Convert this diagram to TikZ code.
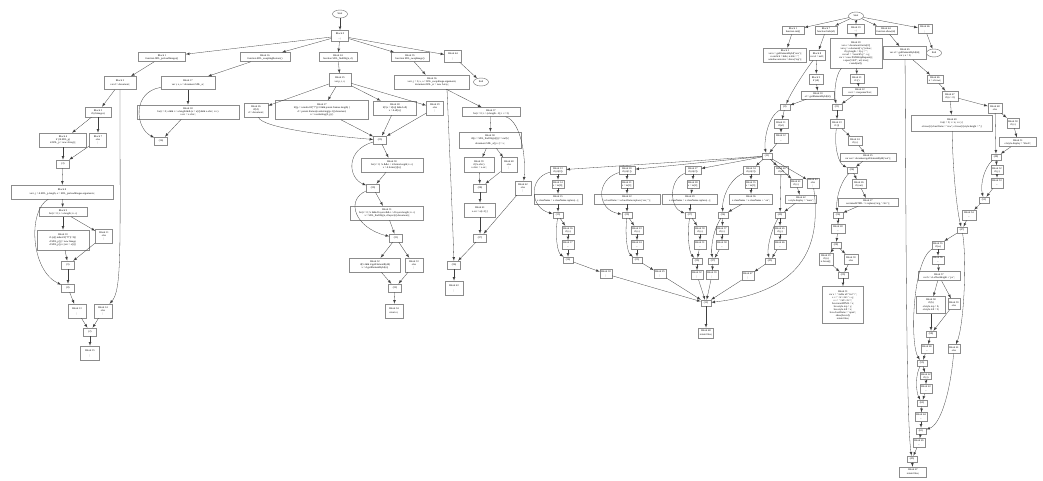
\documentclass[tikz,border=0pt]{standalone}
\usepackage{fontspec}
\setmainfont{Liberation Serif}
\usetikzlibrary{shapes.geometric}
\usepgflibrary{arrows}

\tikzset{
  blk/.style={draw=black!45, line width=0.5pt, inner sep=0.6pt, align=center,
    font=\fontsize{2.6}{3}\selectfont},
  sz/.style 2 args={minimum width=#1pt, minimum height=#2pt},
  jn/.style={blk, minimum width=13pt, minimum height=8pt},
  term/.style={draw=black!60, line width=0.4pt, ellipse, inner sep=0.4pt,
    minimum width=15pt, minimum height=8pt, font=\fontsize{2.6}{3}\selectfont},
  flow/.style={draw=black!75, line width=0.3pt, -latex},
}

\begin{document}
\begin{tikzpicture}[x=1pt,y=-1pt]
  \useasboundingbox (0,0) rectangle (1043,481);

  % first script
  \node[term] (start1) at (340,14) {Start};
  \node[blk, sz={17}{11}] (b0) at (340,36) {Block 0\\[2pt]...;};
  \node[blk, sz={47}{9}] (b1) at (162,57) {Block 1\\function SDL\_preloadImages()};
  \node[blk, sz={50}{9}] (b16) at (265,57) {Block 16\\function SDL\_swapImgRestore()};
  \node[blk, sz={38}{9}] (b24) at (338,57) {Block 24\\function SDL\_findObj(n, d)};
  \node[blk, sz={38}{9}] (b35) at (410,57) {Block 35\\function SDL\_swapImage()};
  \node[blk, sz={17}{12}] (b44) at (453,56) {Block 44\\[2pt];};
  \node[term] (end1) at (481,82) {End};

  \node[blk, sz={32}{13}] (b2) at (120,83) {Block 2\\[1.5pt]var d = document;};
  \node[blk, sz={26}{10}] (b3) at (98,112) {Block 3\\if (d.images)};
  \node[blk, sz={47}{14}] (b4) at (63,140) {Block 4\\if (!d.SDL\_p)\\d.SDL\_p = new Array();};
  \node[blk, sz={17}{14}] (b7) at (98,140) {Block 7\\else\\;};
  \node[jn] (j3) at (63,164) {(3)};
  \node[blk, sz={102}{14}] (b8) at (62,192) {Block 8\\[1.5pt]var i, j = d.SDL\_p.length, a = SDL\_preloadImages.arguments;};
  \node[blk, sz={48}{9}] (b9) at (63,212) {Block 9\\for(i = 0; i < a.length; i++)};
  \node[blk, sz={52}{20}] (b10) at (63,240) {Block 10\\if (a[i].indexOf("\#")!=0)\{\\[1.5pt]d.SDL\_p[j] = new Image;\\d.SDL\_p[j++].src = a[i];\}};
  \node[blk, sz={17}{14}] (b11) at (104,236) {Block 11\\else\\;};
  \node[jn] (j9) at (68,265) {(9)};
  \node[jn] (j8) at (68,288) {(8)};
  \node[blk, sz={18}{14}] (b13) at (77,311) {Block 13\\[2pt];};
  \node[blk, sz={18}{14}] (b14) at (103,311) {Block 14\\else\\;};
  \node[jn] (j2) at (90,332) {(2)};
  \node[blk, sz={19}{14}] (b15) at (90,353) {Block 15\\[2pt];};

  \node[blk, sz={54}{13}] (b17) at (188,83) {Block 17\\[1.5pt]var i, x, a = document.SDL\_sr;};
  \node[blk, sz={102}{14}] (b18) at (188,112) {Block 18\\for(i = 0; a \&\& i < a.length \&\& (x = a[i]) \&\& x.oSrc; i++)\\x.src = x.oSrc;};
  \node[jn] (j16) at (161,141) {(16)};

  \node[blk, sz={22}{13}] (b25) at (340,80) {Block 25\\[1.5pt]var p, i, x;};
  \node[blk, sz={24}{14}] (b26) at (256,110) {Block 26\\if(!d)\\d = document;};
  \node[blk, sz={93}{19}] (b27) at (322,110) {Block 27\\if((p = n.indexOf("?"))>0 \&\& parent.frames.length) \{\\[1pt]d = parent.frames[n.substring(p+1)].document;\\n = n.substring(0, p);\}};
  \node[blk, sz={43}{14}] (b28) at (395,108) {Block 28\\if(!(x = d[n]) \&\& d.all)\\x = d.all[n];};
  \node[blk, sz={17}{14}] (b29) at (435,108) {Block 29\\else\\;};
  \node[jn] (j25) at (380,140) {(25)};
  \node[blk, sz={62}{14}] (b30) at (392,165) {Block 30\\for(i = 0; !x \&\& i < d.forms.length; i++)\\x = d.forms[i][n];};
  \node[jn] (j30) at (373,188) {(30)};
  \node[blk, sz={73}{14}] (b31) at (387,213) {Block 31\\for(i = 0; !x \&\& d.layers \&\& i < d.layers.length; i++)\\x = SDL\_findObj(n, d.layers[i].document);};
  \node[jn] (j31) at (396,238) {(31)};
  \node[blk, sz={51}{14}] (b32) at (375,265) {Block 32\\if(!x \&\& d.getElementById)\\x = d.getElementById(n);};
  \node[blk, sz={18}{14}] (b33) at (414,265) {Block 33\\else\\;};
  \node[jn] (j32) at (395,288) {(32)};
  \node[blk, sz={18}{14}] (b34) at (394,311) {Block 34\\[1.5pt]return x;};

  \node[blk, sz={75}{14}] (b36) at (432,82) {Block 36\\var i, j = 0, x, a = SDL\_swapImage.arguments;\\document.SDL\_sr = new Array;};
  \node[blk, sz={58}{9}] (b37) at (491,112) {Block 37\\for(i = 0; i < (a.length - 2); i += 3)};
  \node[blk, sz={62}{16}] (b38) at (490,140) {Block 38\\if((x = SDL\_findObj(a[i])) != null)\{\\[1.5pt]document.SDL\_sr[j++] = x;};
  \node[blk, sz={30}{15}] (b39) at (479,165) {Block 39\\if(!x.oSrc)\\x.oSrc = x.src;};
  \node[blk, sz={16}{15}] (b40) at (509,165) {Block 40\\else\\;};
  \node[jn] (j38) at (480,188) {(38)};
  \node[blk, sz={31}{14}] (b41) at (480,210) {Block 41\\[1.5pt]x.src = a[i+2];\}};
  \node[jn] (j37) at (480,238) {(37)};
  \node[blk, sz={16}{14}] (b42) at (523,188) {Block 42\\else\\;};
  \node[jn] (j36) at (454,265) {(36)};
  \node[blk, sz={18}{14}] (b43) at (454,288) {Block 43\\[2pt];};

  \draw[flow] (start1) -- (b0);
  \foreach \t in {b1,b16,b24,b35,b44} \draw[flow] (b0) -- (\t);
  \draw[flow] (b44) -- (end1);
  \draw[flow] (b1) -- (b2);
  \draw[flow] (b2) -- (b3);
  \draw[flow] (b2) .. controls (120,250) and (122,290) .. (b14);
  \draw[flow] (b3) -- (b4);
  \draw[flow] (b3) -- (b7);
  \draw[flow] (b4) -- (j3);
  \draw[flow] (b7) -- (j3);
  \draw[flow] (j3) -- (b8);
  \draw[flow] (b8) -- (b9);
  \draw[flow] (b8) .. controls (28,210) and (30,270) .. (j8);
  \draw[flow] (b9) -- (b10);
  \draw[flow] (b9) -- (b11);
  \draw[flow] (b10) -- (j9);
  \draw[flow] (b11) -- (j9);
  \draw[flow] (j9) -- (j8);
  \draw[flow] (j8) -- (b13);
  \draw[flow] (b13) -- (j2);
  \draw[flow] (b14) -- (j2);
  \draw[flow] (j2) -- (b15);

  \draw[flow] (b16) -- (b17);
  \draw[flow] (b17) -- (b18);
  \draw[flow] (b17) .. controls (132,92) and (135,128) .. (j16);
  \draw[flow] (b18) -- (j16);

  \draw[flow] (b24) -- (b25);
  \foreach \t in {b26,b27,b28,b29} \draw[flow] (b25) -- (\t);
  \draw[flow] (b26) .. controls (262,128) and (330,136) .. (j25);
  \foreach \t in {b27,b28,b29} \draw[flow] (\t) -- (j25);
  \draw[flow] (j25) -- (b30);
  \draw[flow] (j25) .. controls (345,150) and (348,178) .. (j30);
  \draw[flow] (b30) -- (j30);
  \draw[flow] (j30) -- (b31);
  \draw[flow] (j30) .. controls (345,200) and (355,228) .. (j31);
  \draw[flow] (b31) -- (j31);
  \draw[flow] (j31) -- (b32);
  \draw[flow] (j31) -- (b33);
  \draw[flow] (b32) -- (j32);
  \draw[flow] (b33) -- (j32);
  \draw[flow] (j32) -- (b34);

  \draw[flow] (b35) -- (b36);
  \draw[flow] (b36) -- (b37);
  \draw[flow] ([xshift=15pt]b36.south) .. controls (450,160) and (453,230) .. (j36);
  \draw[flow] (b37) -- (b38);
  \draw[flow] (b37) .. controls (522,122) and (526,160) .. (b42);
  \draw[flow] (b38) -- (b39);
  \draw[flow] (b38) -- (b40);
  \draw[flow] (b39) -- (j38);
  \draw[flow] (b40) -- (j38);
  \draw[flow] (j38) -- (b41);
  \draw[flow] (b41) -- (j37);
  \draw[flow] (b42) -- (j37);
  \draw[flow] (j37) -- (j36);
  \draw[flow] (j36) -- (b43);

  % second script
  \node[term] (start2) at (856,16) {Start};
  \node[blk, sz={22}{8}] (c1) at (793,30) {Block 1\\function init()};
  \node[blk, sz={22}{8}] (c2) at (826,30) {Block 7\\function hide(id)};
  \node[blk, sz={17}{9}] (c3) at (856,29) {Block 19\\...;};
  \node[blk, sz={22}{8}] (c4) at (886,30) {Block 44\\function show(id)};
  \node[blk, sz={14}{9}] (c5) at (925,29) {Block 66\\[2pt];};
  \node[term] (end2) at (934,53) {End};

  \node[blk, sz={43}{14}] (c1b) at (785,55) {Block 2\\var n = getElementById('nav');\\n.onclick = hide; n.title = '';\\window.onresize = show('top');};
  \node[blk, sz={16}{10}] (c2b) at (817,55) {Block 8\\var el = null;};
  \node[blk, sz={14}{10}] (c2c) at (816,79) {Block 9\\if (id)};
  \node[blk, sz={33}{8}] (c2d) at (818,95) {Block 10\\el = getElementById(id);};
  \node[jn, sz={10}{6}] (c2j) at (785,107) {(8)};
  \node[blk, sz={14}{9}] (c2e) at (781,124) {Block 11\\if (el)};
  \node[blk, sz={14}{10}] (c2f) at (781,138) {Block 12\\[1.5pt]...};
  \node[jn, sz={10}{6}] (hub) at (767,156) {(11)};

  % four alike branches of the hub
  \node[blk, sz={16}{8}] (m1a) at (558,170) {Block 13\\if (m[0])};
  \node[blk, sz={12}{8}] (m1b) at (558,184) {Block 14\\x = m[0];};
  \node[blk, sz={48}{10}] (m1c) at (558,199) {Block 15\\[1pt]x.className = x.className.replace(...);};
  \node[jn, sz={10}{6}] (m1j) at (558,215) {(13)};
  \node[blk, sz={12}{8}] (m1d) at (568,230) {Block 16\\if (x)};
  \node[blk, sz={12}{9}] (m1e) at (568,245) {Block 17\\[1pt]...};
  \node[jn, sz={10}{6}] (m1k) at (568,260) {(16)};
  \node[blk, sz={12}{9}] (m1f) at (606,274) {Block 18\\[1pt];};

  \node[blk, sz={16}{8}] (m2a) at (627,170) {Block 20\\if (m[1])};
  \node[blk, sz={12}{8}] (m2b) at (627,184) {Block 21\\x = m[1];};
  \node[blk, sz={66}{10}] (m2c) at (627,199) {Block 22\\[1pt]x.className = x.className.replace(/ on/, '');};
  \node[jn, sz={10}{6}] (m2j) at (627,215) {(20)};
  \node[blk, sz={12}{8}] (m2d) at (637,230) {Block 23\\if (x)};
  \node[blk, sz={12}{9}] (m2e) at (637,245) {Block 24\\[1pt]...};
  \node[jn, sz={10}{6}] (m2k) at (637,260) {(23)};
  \node[blk, sz={12}{9}] (m2f) at (660,274) {Block 25\\[1pt];};

  \node[blk, sz={16}{8}] (m3a) at (693,170) {Block 27\\if (m[2])};
  \node[blk, sz={12}{8}] (m3b) at (693,184) {Block 28\\x = m[2];};
  \node[blk, sz={55}{10}] (m3c) at (690,199) {Block 29\\[1pt]x.className = x.className.replace(...);};
  \node[jn, sz={10}{6}] (m3j) at (690,215) {(27)};
  \node[blk, sz={12}{8}] (m3d) at (700,230) {Block 30\\if (x)};
  \node[blk, sz={12}{9}] (m3e) at (700,245) {Block 31\\[1pt]...};
  \node[jn, sz={10}{6}] (m3k) at (697,261) {(30)};
  \node[blk, sz={12}{9}] (m3f) at (697,275) {Block 32\\[1pt];};

  \node[blk, sz={16}{8}] (m4a) at (751,170) {Block 34\\if (m[3])};
  \node[blk, sz={12}{8}] (m4b) at (751,184) {Block 35\\x = m[3];};
  \node[blk, sz={43}{10}] (m4c) at (751,199) {Block 36\\[1pt]x.className = x.className + ' on';};
  \node[jn, sz={10}{6}] (m4j) at (723,215) {(34)};
  \node[blk, sz={12}{8}] (m4d) at (722,230) {Block 37\\if (x)};
  \node[blk, sz={12}{9}] (m4e) at (722,245) {Block 38\\[1pt]...};
  \node[jn, sz={10}{6}] (m4k) at (713,261) {(37)};
  \node[blk, sz={12}{9}] (m4f) at (712,275) {Block 39\\[1pt];};

  \node[blk, sz={14}{8}] (m5a) at (781,170) {Block 40\\if (el)};
  \node[blk, sz={12}{8}] (m5b) at (796,183) {Block 41\\if (x)};
  \node[blk, sz={31}{8}] (m5c) at (801,199) {Block 42\\x.style.display = 'none';};
  \node[blk, sz={12}{10}] (m5x) at (813,183) {Block 43\\else\\;};
  \node[jn, sz={10}{6}] (m5j) at (780,215) {(40)};
  \node[blk, sz={12}{8}] (m5d) at (780,230) {Block 45\\if (y)};
  \node[blk, sz={12}{9}] (m5e) at (780,245) {Block 46\\[1pt]...};
  \node[jn, sz={10}{6}] (m5k) at (770,261) {(45)};
  \node[blk, sz={12}{9}] (m5f) at (748,276) {Block 47\\[1pt];};

  \node[jn, sz={10}{6}] (bot) at (706,303) {(12)};
  \node[blk, sz={15}{10}] (fin) at (706,333) {Block 48\\[1pt]return false;};

  \draw[flow] (start2) -- (c1);
  \draw[flow] (start2) -- (c2);
  \draw[flow] (start2) -- (c3);
  \draw[flow] (start2) -- (c4);
  \draw[flow] (start2) -- (c5);
  \draw[flow] (c5) -- (end2);
  \draw[flow] (c1) -- (c1b);
  \draw[flow] (c2) -- (c2b);
  \draw[flow] (c2b) -- (c2c);
  \draw[flow] (c2b) .. controls (800,78) and (790,95) .. (c2j);
  \draw[flow] (c2c) -- (c2d);
  \draw[flow] (c2d) -- (c2j);
  \draw[flow] (c2j) -- (c2e);
  \draw[flow] (c2j) .. controls (766,118) and (764,145) .. (hub);
  \draw[flow] (c2e) -- (c2f);
  \draw[flow] (c2f) -- (hub);

  \foreach \m in {m1,m2,m3,m4,m5} {
    \draw[flow] (hub) -- (\m a);
    \draw[flow] (\m j) -- (\m d);
    \draw[flow] (\m d) -- (\m e);
    \draw[flow] (\m e) -- (\m k);
    \draw[flow] (\m k) -- (\m f);
    \draw[flow] (\m f) -- (bot);
  }
  \foreach \m in {m1,m2,m3,m4} {
    \draw[flow] (\m a) -- (\m b);
    \draw[flow] (\m b) -- (\m c);
    \draw[flow] (\m c) -- (\m j);
  }
  \draw[flow] (m1a) .. controls (528,178) and (530,208) .. (m1j);
  \draw[flow] (m1j) .. controls (555,235) and (557,252) .. (m1k);
  \draw[flow] (m2a) .. controls (595,180) and (597,210) .. (m2j);
  \draw[flow] (m2j) .. controls (625,235) and (627,252) .. (m2k);
  \draw[flow] (m3a) .. controls (668,180) and (670,208) .. (m3j);
  \draw[flow] (m3j) .. controls (687,235) and (689,252) .. (m3k);
  \draw[flow] (m4a) .. controls (728,180) and (722,200) .. (m4j);
  \draw[flow] (m4j) .. controls (712,232) and (711,250) .. (m4k);
  \draw[flow] (hub) -- (m5b);
  \draw[flow] (hub) -- (m5x);
  \draw[flow] (m5a) -- (m5j);
  \draw[flow] (m5b) -- (m5c);
  \draw[flow] (m5c) -- (m5j);
  \draw[flow] (m5j) .. controls (770,232) and (767,250) .. (m5k);
  \draw[flow] (m5x) .. controls (822,250) and (800,292) .. (bot);
  \draw[flow] (bot) -- (fin);

  % third branch of the second script
  \node[blk, sz={52}{30}] (c3b) at (856,53) {Block 20\\var o = document.forms[0];\\var q = o.elements['q'].value;\\if (q.length < 2) q = '';\\var url = '/search?q=' + q;\\var r = new XMLHttpRequest();\\r.open('GET', url, true);\\r.send(null);};
  \node[blk, sz={14}{9}] (c3c) at (857,79) {Block 21\\if (r)};
  \node[blk, sz={35}{8}] (c3d) at (860,91) {Block 22\\var t = r.responseText;};
  \node[jn, sz={10}{6}] (c3j) at (837,107) {(21)};
  \node[blk, sz={14}{9}] (c3e) at (837,124) {Block 23\\if (t)};
  \node[blk, sz={14}{9}] (c3f) at (855,141) {Block 24\\if (o)};
  \node[blk, sz={56}{8}] (c3g) at (868,157) {Block 25\\var out = document.getElementById('out');};
  \node[jn, sz={10}{6}] (c3k) at (852,170) {(24)};
  \node[blk, sz={14}{9}] (c3h) at (859,184) {Block 26\\if (out)};
  \node[blk, sz={60}{8}] (c3i) at (868,202) {Block 27\\out.innerHTML = t.replace(/\textbackslash n/g, '<br>');};
  \node[jn, sz={10}{6}] (c3l) at (838,215) {(26)};
  \node[blk, sz={14}{9}] (c3m) at (838,229) {Block 28\\[1pt]...};
  \node[jn, sz={10}{6}] (c3n) at (836,245) {(28)};
  \node[blk, sz={14}{12}] (c3o) at (826,259) {Block 29\\if (n)\\n.focus();};
  \node[blk, sz={14}{10}] (c3p) at (851,259) {Block 30\\else};
  \node[jn, sz={10}{6}] (c3q) at (843,275) {(29)};
  \node[blk, sz={41}{37}] (c3r) at (843,305) {Block 31\\var s = '<table id="res">';\\s += '<tr><td>' + q;\\s += '</td></tr>';\\box.innerHTML = s;\\box.style.top = y;\\box.style.left = x;\\box.className = 'open';\\show(box.id);\\return false;};

  \draw[flow] (c3) -- (c3b);
  \draw[flow] (c3b) -- (c3c);
  \draw[flow] (c3c) -- (c3d);
  \draw[flow] (c3d) -- (c3j);
  \draw[flow] (c3b) .. controls (835,75) and (834,95) .. (c3j);
  \draw[flow] (c3j) -- (c3e);
  \draw[flow] (c3e) -- (c3f);
  \draw[flow] (c3f) -- (c3g);
  \draw[flow] (c3g) -- (c3k);
  \draw[flow] (c3e) .. controls (834,145) and (838,163) .. (c3k);
  \draw[flow] (c3k) -- (c3h);
  \draw[flow] (c3h) -- (c3i);
  \draw[flow] (c3i) -- (c3l);
  \draw[flow] (c3k) .. controls (838,185) and (836,203) .. (c3l);
  \draw[flow] (c3l) -- (c3m);
  \draw[flow] (c3m) -- (c3n);
  \draw[flow] (c3n) -- (c3o);
  \draw[flow] (c3n) -- (c3p);
  \draw[flow] (c3o) -- (c3q);
  \draw[flow] (c3p) -- (c3q);
  \draw[flow] (c3q) -- (c3r);

  % fourth branch of the second script
  \node[blk, sz={43}{13}] (c4b) at (905,53) {Block 45\\var el = getElementById(id);\\var i, n = 0;};
  \node[blk, sz={16}{8}] (c4c) at (935,79) {Block 46\\n = el.rows;};
  \node[blk, sz={16}{10}] (c4d) at (950,96) {Block 47\\if (n > 0)};
  \node[blk, sz={14}{10}] (c4e) at (995,108) {Block 48\\else};
  \node[blk, sz={81}{16}] (c4f) at (952,123) {Block 49\\for(i = 0; i < n; i++) \{\\[1pt]el.rows[i].className = 'row'; el.rows[i].style.height = '';\}};
  \node[blk, sz={12}{10}] (c4g) at (1013,123) {Block 50\\if (x)};
  \node[blk, sz={37}{9}] (c4h) at (1018,142) {Block 51\\el.style.display = 'block';};
  \node[jn, sz={10}{6}] (c4j) at (996,157) {(48)};
  \node[blk, sz={12}{9}] (c4i) at (997,170) {Block 52\\if (y)};
  \node[blk, sz={12}{10}] (c4k) at (997,183) {Block 53\\[1pt]...};
  \node[jn, sz={10}{6}] (c4l) at (984,200) {(52)};
  \node[blk, sz={14}{10}] (c4m) at (969,215) {Block 54\\[1pt]...};
  \node[jn, sz={10}{6}] (c4n) at (962,230) {(47)};
  \node[blk, sz={12}{8}] (c4o) at (938,245) {Block 55\\if (w)};
  \node[blk, sz={12}{8}] (c4p) at (938,260) {Block 56\\[1pt]...};
  \node[blk, sz={42}{9}] (c4q) at (939,276) {Block 57\\var h = el.offsetHeight + 'px';};
  \node[blk, sz={29}{17}] (c4r) at (931,305) {Block 58\\if (h)\\[1pt]el.style.top = h;\\el.style.left = 0;};
  \node[blk, sz={12}{11}] (c4s) at (954,304) {Block 59\\else};
  \node[jn, sz={10}{6}] (c4t) at (931,334) {(58)};
  \node[blk, sz={12}{9}] (c4u) at (927,349) {Block 60\\[1pt]...};
  \node[blk, sz={12}{9}] (c4v) at (954,349) {Block 61\\else};
  \node[jn, sz={10}{6}] (c4w) at (922,363) {(55)};
  \node[blk, sz={10}{7}] (c4x) at (926,376) {Block 62\\if (z)};
  \node[blk, sz={12}{9}] (c4y) at (926,389) {Block 63\\[1pt]...};
  \node[jn, sz={10}{6}] (c4z) at (922,403) {(62)};
  \node[blk, sz={12}{9}] (c4aa) at (921,417) {Block 64\\[1pt]...};
  \node[jn, sz={10}{6}] (c4ab) at (921,431) {(61)};
  \node[blk, sz={12}{9}] (c4ac) at (919,443) {Block 65\\[1pt]...};
  \node[jn, sz={10}{6}] (c4ad) at (912,459) {(45)};
  \node[blk, sz={27}{10}] (c4ae) at (913,472) {Block 67\\[1pt]return false;};

  \draw[flow] (c4) -- (c4b);
  \draw[flow] (c4b) -- (c4c);
  \draw[flow] (c4c) -- (c4d);
  \draw[flow] (c4d) -- (c4e);
  \draw[flow] (c4d) -- (c4f);
  \draw[flow] (c4e) -- (c4g);
  \draw[flow] (c4g) -- (c4h);
  \draw[flow] (c4e) -- (c4j);
  \draw[flow] (c4h) -- (c4j);
  \draw[flow] (c4j) -- (c4i);
  \draw[flow] (c4i) -- (c4k);
  \draw[flow] (c4k) -- (c4l);
  \draw[flow] (c4j) .. controls (984,168) and (980,185) .. (c4l);
  \draw[flow] (c4l) -- (c4m);
  \draw[flow] (c4m) -- (c4n);
  \draw[flow] (c4f) .. controls (953,180) and (958,215) .. (c4n);
  \draw[flow] (c4n) -- (c4o);
  \draw[flow] (c4o) -- (c4p);
  \draw[flow] (c4p) -- (c4q);
  \draw[flow] (c4q) -- (c4r);
  \draw[flow] (c4q) -- (c4s);
  \draw[flow] (c4r) -- (c4t);
  \draw[flow] (c4s) -- (c4t);
  \draw[flow] (c4t) -- (c4u);
  \draw[flow] (c4n) .. controls (967,260) and (964,325) .. (c4v);
  \draw[flow] (c4u) -- (c4w);
  \draw[flow] (c4o) .. controls (912,262) and (910,345) .. (c4w);
  \draw[flow] (c4w) -- (c4x);
  \draw[flow] (c4x) -- (c4y);
  \draw[flow] (c4y) -- (c4z);
  \draw[flow] (c4w) .. controls (915,375) and (916,392) .. (c4z);
  \draw[flow] (c4z) -- (c4aa);
  \draw[flow] (c4aa) -- (c4ab);
  \draw[flow] (c4v) .. controls (950,395) and (940,425) .. (c4ab);
  \draw[flow] (c4ab) -- (c4ac);
  \draw[flow] (c4ac) -- (c4ad);
  \draw[flow] (c4b) .. controls (906,200) and (906,420) .. (c4ad);
  \draw[flow] (c4ad) -- (c4ae);
\end{tikzpicture}
\end{document}
